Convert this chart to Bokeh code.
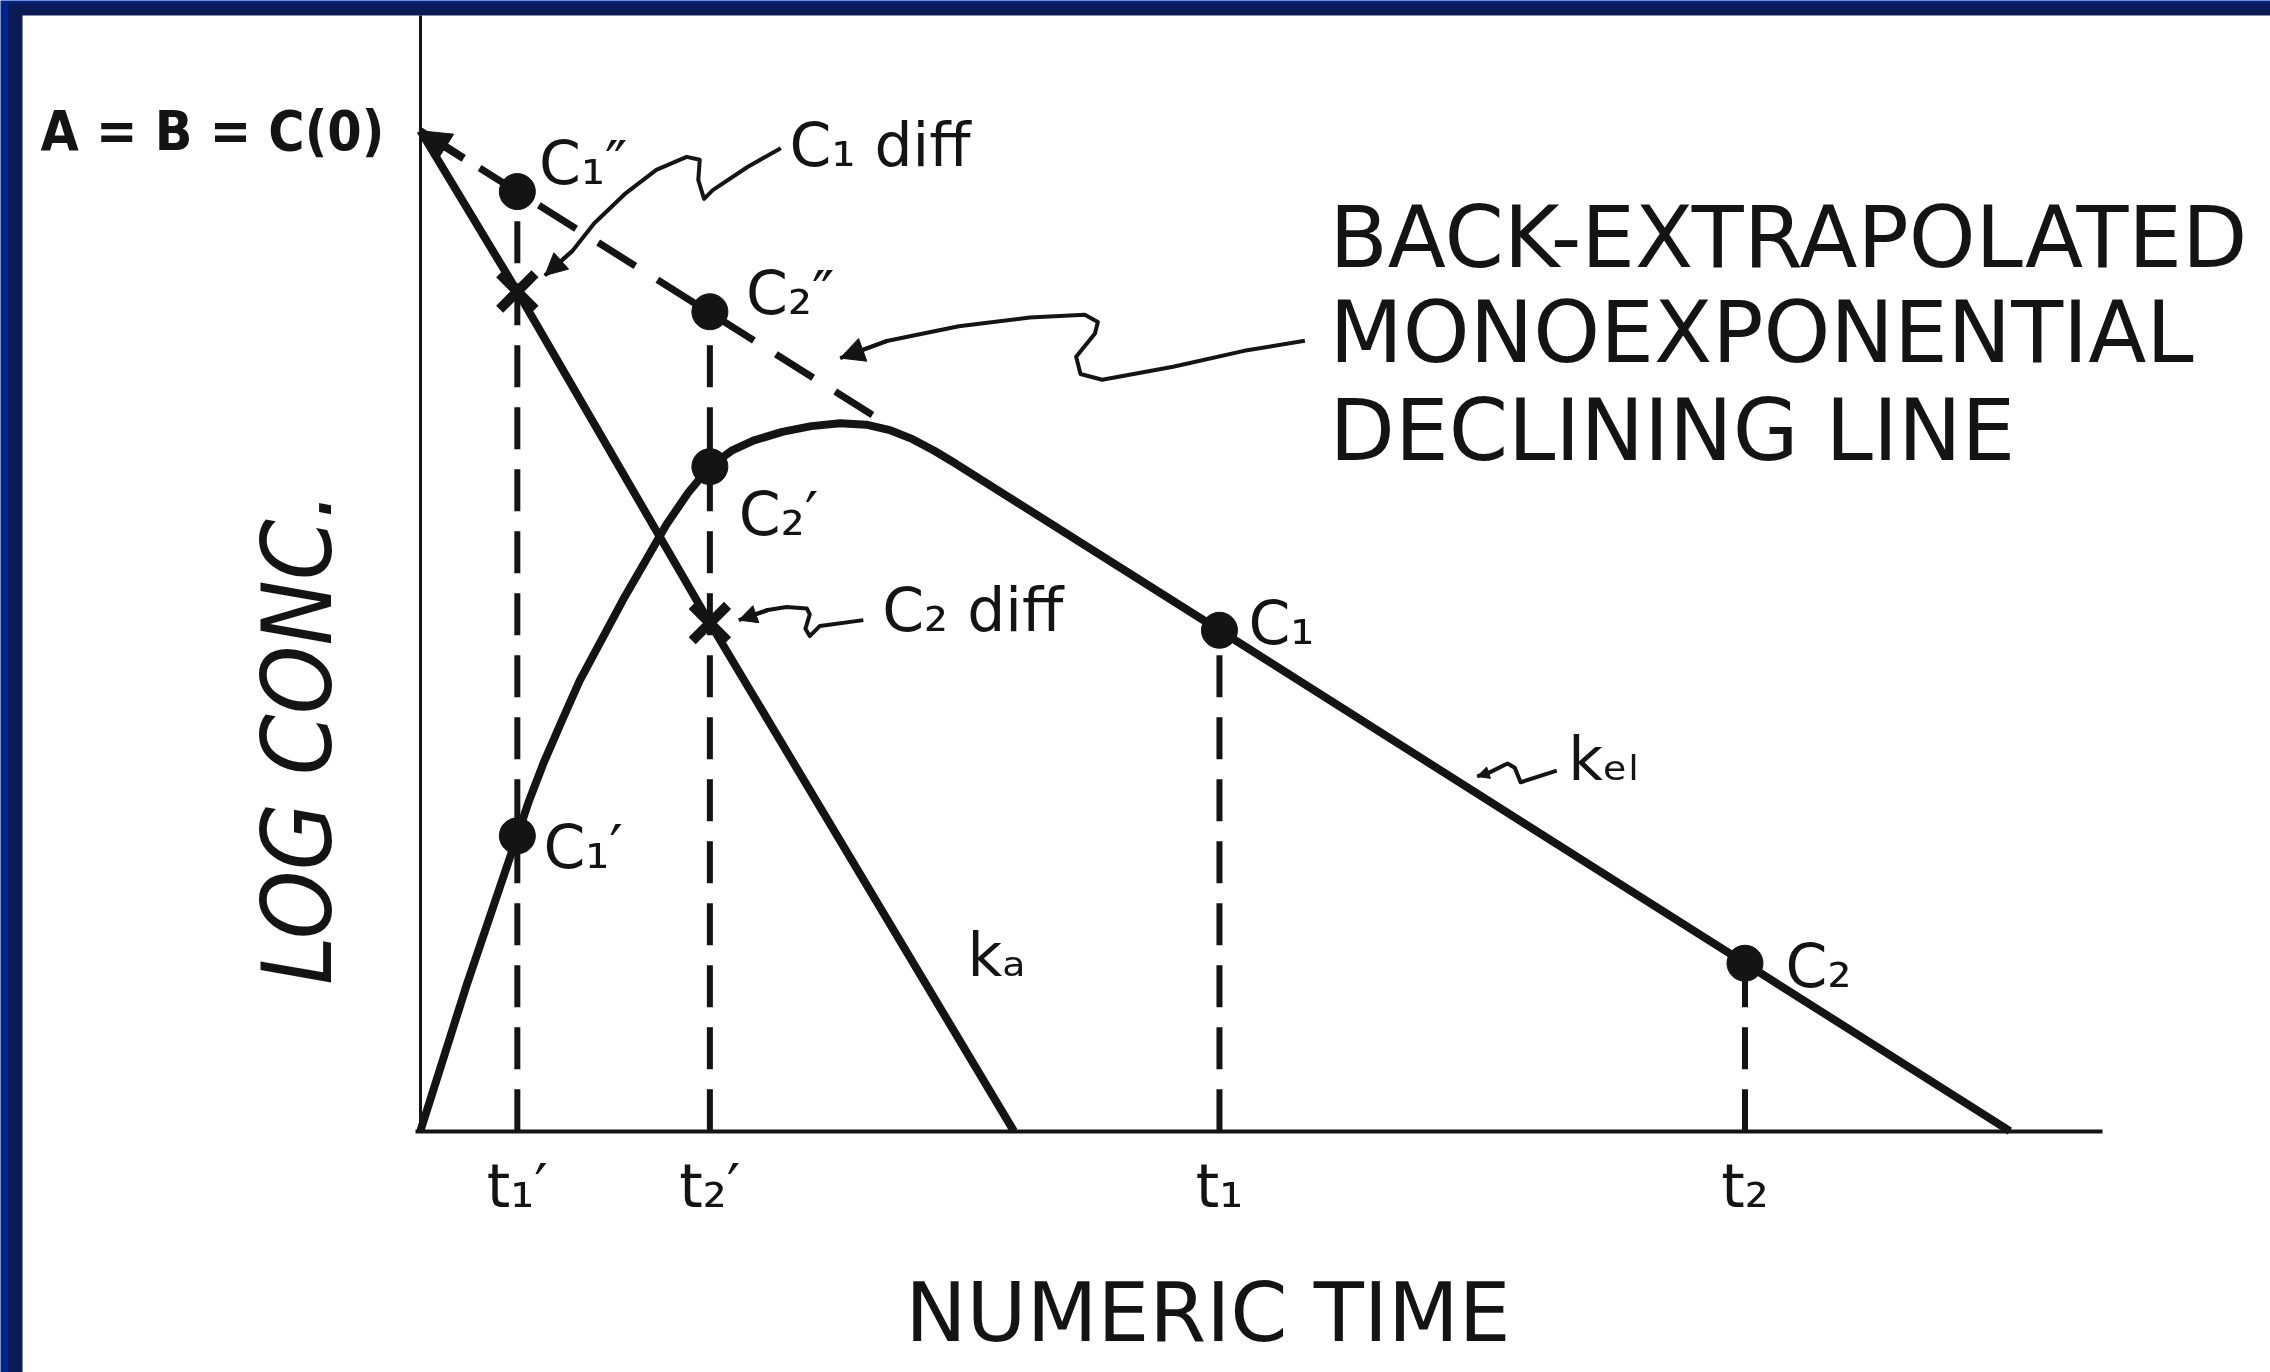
from bokeh.plotting import figure
from bokeh.models import Range1d, LinearAxis, FixedTicker, Arrow, NormalHead
from bokeh.core.properties import value
from bokeh.embed import file_html
from bokeh.resources import INLINE
import math

# ---------------- data (arbitrary units) ----------------
C0 = 6.91                                   # A = B = C(0), log scale intercept
tick_times = [0.67, 2.00, 5.52, 9.15]       # t1', t2', t1, t2
tick_labels = ["t₁′", "t₂′", "t₁", "t₂"]

# observed log-concentration curve (rise, peak, then monoexponential decline)
obs_t = [0.00, 0.32, 0.67, 0.75, 0.85, 0.98, 1.10, 1.25, 1.40, 1.55, 1.70, 1.85,
         2.00, 2.15, 2.30, 2.50, 2.70, 2.90, 3.08, 3.25, 3.40, 3.55, 3.70,
         5.52, 9.15, 10.98]
obs_c = [0.00, 1.01, 2.04, 2.28, 2.54, 2.84, 3.11, 3.39, 3.67, 3.93, 4.19, 4.41,
         4.59, 4.70, 4.77, 4.83, 4.87, 4.89, 4.88, 4.84, 4.78, 4.70, 4.61,
         3.46, 1.16, 0.00]

# back-extrapolated monoexponential (dashed) line
back_t = [0.00, 3.15]
back_c = [6.91, 4.93]

# absorption (residual) line, k_a
ka_t = [0.00, 0.67, 2.00, 4.10]
ka_c = [6.91, 5.80, 3.51, 0.00]

# plotted points
dot_names = ["C₁″", "C₂″", "C₁′", "C₂′", "C₁", "C₂"]
dot_t = [0.67, 2.00, 0.67, 2.00, 5.52, 9.15]
dot_c = [6.49, 5.66, 2.04, 4.59, 3.46, 1.16]

# residual ("diff") points
diff_names = ["C₁ diff", "C₂ diff"]
diff_t = [0.67, 2.00]
diff_c = [5.80, 3.51]

# dashed drop lines from each sampled point to the time axis
drop_t = tick_times
drop_top = [6.49, 5.66, 3.46, 1.16]

# ---------------- annotation geometry (data units) ----------------
label_text = ["C₁″", "C₂″", "C₂′", "C₁′", "C₁", "C₂", "C₁ diff", "C₂ diff", "kₐ", "kₑₗ"]
label_x = [0.82, 2.25, 2.20, 0.85, 5.72, 9.43, 2.55, 3.19, 3.78, 7.93]
label_y = [6.69, 5.79, 4.26, 1.96, 3.51, 1.14, 6.81, 3.60, 1.22, 2.57]

note_lines = ["BACK-EXTRAPOLATED", "MONOEXPONENTIAL", "DECLINING LINE"]
note_x = 6.28
note_y = [6.17, 5.52, 4.84]

sq1_x = [2.49, 2.26, 2.02, 1.96, 1.92, 1.93, 1.84, 1.63, 1.42, 1.20, 1.05, 0.86]
sq1_y = [6.79, 6.66, 6.50, 6.44, 6.57, 6.71, 6.73, 6.64, 6.48, 6.27, 6.08, 5.91]
sq2_x = [6.11, 5.69, 5.20, 4.71, 4.56, 4.53, 4.66, 4.68, 4.59, 4.21, 3.72, 3.23, 2.90]
sq2_y = [5.46, 5.39, 5.28, 5.19, 5.23, 5.35, 5.51, 5.59, 5.64, 5.62, 5.56, 5.46, 5.34]
sq3_x = [3.06, 2.76, 2.69, 2.66, 2.69, 2.67, 2.53, 2.40, 2.20]
sq3_y = [3.53, 3.49, 3.42, 3.47, 3.57, 3.61, 3.62, 3.60, 3.53]
sq4_x = [7.85, 7.60, 7.56, 7.51, 7.39, 7.30]
sq4_y = [2.49, 2.41, 2.51, 2.54, 2.48, 2.45]

INK = "#141414"
FONT = "DejaVu Sans"

p = figure(width=2270, height=1372,
           x_range=Range1d(-2.90, 12.78), y_range=Range1d(-1.667, 7.81),
           x_axis_type=None, y_axis_type=None,
           toolbar_location=None, output_backend="svg",
           min_border=0, outline_line_color=None,
           background_fill_color="#00238c", border_fill_color="#00238c")

# slide border and white panel
p.quad(left=-2.845, right=13.5, bottom=-3, top=7.789, fill_color="#0a1b55", line_color=None)
p.quad(left=-2.748, right=13.5, bottom=-3, top=7.706, fill_color="#ffffff", line_color=None)

# axes at the origin
xax = LinearAxis(fixed_location=0, bounds=(-0.03, 11.62),
                 ticker=FixedTicker(ticks=tick_times),
                 major_label_overrides=dict(zip(tick_times, tick_labels)))
yax = LinearAxis(fixed_location=0, bounds=(0, 7.706),
                 ticker=FixedTicker(ticks=[C0]),
                 major_label_overrides={C0: "A = B = C(0)"})
for ax, lw in ((xax, 4), (yax, 3)):
    ax.axis_line_color = INK
    ax.axis_line_width = lw
    ax.major_tick_line_color = None
    ax.minor_tick_line_color = None
    ax.major_tick_out = 0
    ax.major_tick_in = 0
    ax.major_label_text_color = INK
    ax.major_label_text_font = FONT
xax.major_label_text_font_size = "60px"
xax.major_label_standoff = 20
yax.major_label_text_font = "DejaVu Sans Condensed"
yax.major_label_text_font_style = "bold"
yax.major_label_text_font_size = "55px"
yax.major_label_standoff = 36
p.add_layout(xax, "below")
p.add_layout(yax, "left")

# dashed drop lines
p.segment(x0=drop_t, y0=[0] * len(drop_t), x1=drop_t, y1=drop_top,
          line_color=INK, line_width=6, line_dash="42 20")

# back-extrapolated dashed line
p.line(back_t, back_c, line_color=INK, line_width=7, line_dash="44 26")
p.add_layout(Arrow(x_start=back_t[0] + 0.30, y_start=back_c[0] - 0.19, x_end=back_t[0], y_end=back_c[0],
                   line_color=INK, line_width=8,
                   end=NormalHead(size=30, fill_color=INK, line_color=INK)))

# k_a line and observed curve
p.line(ka_t, ka_c, line_color=INK, line_width=8)
p.line(obs_t, obs_c, line_color=INK, line_width=8, line_join="round")

# points
p.scatter(dot_t, dot_c, size=36, fill_color=INK, line_color=INK)
p.scatter(diff_t, diff_c, marker="x", size=50, line_color=INK, line_width=10)

# squiggly pointer arrows
for sx, sy, hs in ((sq1_x, sq1_y, 22), (sq2_x, sq2_y, 24), (sq3_x, sq3_y, 18), (sq4_x, sq4_y, 12)):
    p.line(sx, sy, line_color=INK, line_width=4, line_join="round")
    p.add_layout(Arrow(x_start=sx[-2], y_start=sy[-2], x_end=sx[-1], y_end=sy[-1],
                       line_color=INK, line_width=4,
                       end=NormalHead(size=hs, fill_color=INK, line_color=INK)))

# point labels
p.text(x=label_x, y=label_y, text=label_text, text_font=value(FONT),
       text_font_size="60px", text_color=INK, text_align="left", text_baseline="alphabetic")

# explanatory note
p.text(x=[note_x] * 3, y=note_y, text=note_lines, text_font=value(FONT),
       text_font_size="85px", text_color=INK, text_align="left", text_baseline="alphabetic")

# axis titles
p.text(x=[5.44], y=[-1.25], text=["NUMERIC TIME"], text_font=value(FONT),
       text_font_size="82px", text_color=INK, text_align="center", text_baseline="alphabetic")
p.text(x=[-0.85], y=[2.81], text=["LOG  CONC."], text_font=value("DejaVu Sans Condensed"),
       text_font_style="italic", angle=math.pi / 2, text_font_size="97px", text_color=INK,
       text_align="center", text_baseline="middle")

open("out.html", "w").write(file_html(p, INLINE))
